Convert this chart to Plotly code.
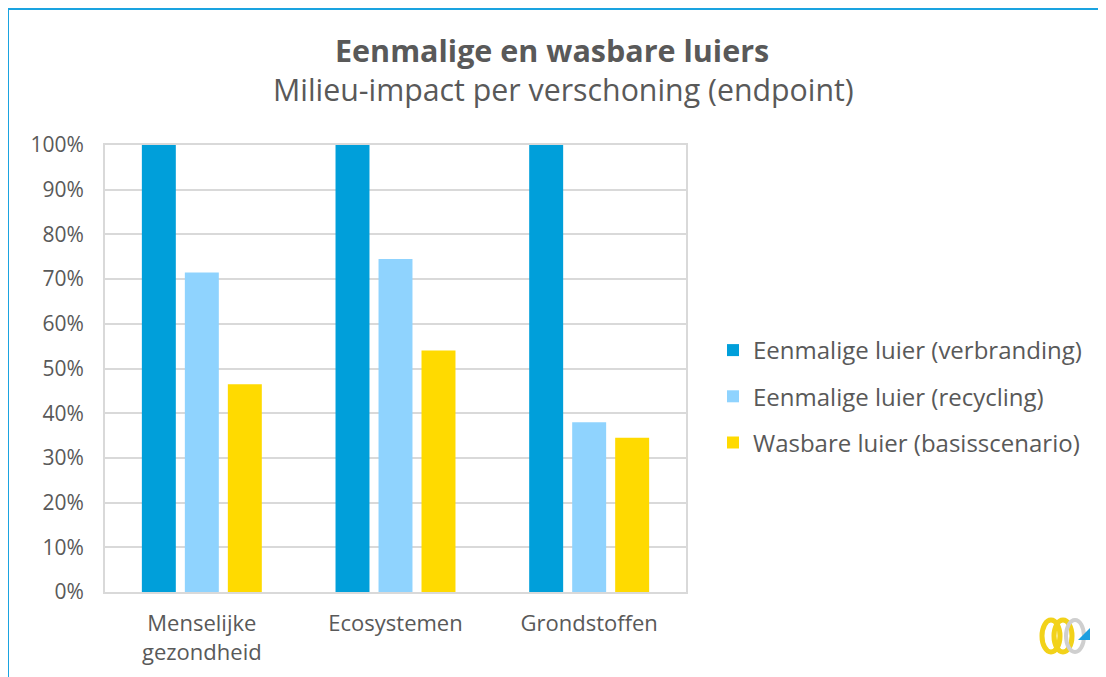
import plotly.graph_objects as go

categories = ["Menselijke<br>gezondheid", "Ecosystemen", "Grondstoffen"]
series_names = ["Eenmalige luier (verbranding)", "Eenmalige luier (recycling)", "Wasbare luier (basisscenario)"]
verbranding = [1.00, 1.00, 1.00]
recycling = [0.715, 0.745, 0.38]
wasbaar = [0.465, 0.54, 0.345]
colors = ["#009FDA", "#8FD3FE", "#FFDA00"]
tick_vals = [i / 10 for i in range(11)]

# page body has an 8px margin, so figure is shifted by 8px
OFF = 8
W, H = 1106 - OFF, 677 - OFF
L, R, T, B = 105, 686, 145, 592  # target screen coords of plot area

fig = go.Figure()
for name, vals, col in zip(series_names, [verbranding, recycling, wasbaar], colors):
    fig.add_trace(go.Bar(x=categories, y=vals, name=name, legendgroup=name,
                         marker=dict(color=col, line=dict(width=0))))

def px(x):
    return (x - L) / (R - L)

def py(y):
    return (B - y) / (B - T)

shapes = [
    dict(type="rect", xref="paper", yref="paper", x0=px(8), x1=px(1200), y0=py(800), y1=py(9),
         line=dict(color="#1AA3E0", width=2), fillcolor="rgba(0,0,0,0)", layer="below"),
    dict(type="circle", xref="paper", yref="paper", x0=px(1042), x1=px(1060), y0=py(652), y1=py(620),
         line=dict(color="#F2D21A", width=5)),
    dict(type="circle", xref="paper", yref="paper", x0=px(1054), x1=px(1072), y0=py(652), y1=py(620),
         line=dict(color="#F2D21A", width=5)),
    dict(type="circle", xref="paper", yref="paper", x0=px(1066), x1=px(1084), y0=py(652), y1=py(620),
         line=dict(color="#CFCFCF", width=4)),
    dict(type="path", xref="paper", yref="paper",
         path=f"M {px(1078)} {py(640)} L {px(1090)} {py(640)} L {px(1090)} {py(628)} Z",
         fillcolor="#1E9FE0", line=dict(width=0)),
]

annotations = [
    dict(text="<b>Eenmalige en wasbare luiers</b>", xref="paper", yref="paper", x=px(552), y=py(50),
         xanchor="center", yanchor="middle", showarrow=False, font=dict(size=30.5, color="#595959")),
    dict(text="Milieu-impact per verschoning (endpoint)", xref="paper", yref="paper", x=px(563), y=py(89),
         xanchor="center", yanchor="middle", showarrow=False, font=dict(size=30.3, color="#595959")),
]

fig.update_layout(
    width=W, height=H,
    margin=dict(l=L - OFF, r=W - (R - OFF), t=T - OFF, b=H - (B - OFF), pad=0),
    paper_bgcolor="white", plot_bgcolor="white",
    font=dict(family="Open Sans, sans-serif", color="#595959"),
    barmode="group", bargap=0.334, bargroupgap=0.21,
    xaxis=dict(showline=True, linecolor="#D9D9D9", linewidth=2, mirror=True, showgrid=False,
               tickfont=dict(size=22, color="#595959"), ticks="outside", ticklen=11, tickcolor="white"),
    yaxis=dict(range=[0, 1], tickvals=tick_vals, tickformat=".0%", showgrid=True, gridcolor="#D9D9D9",
               gridwidth=2, showline=True, linecolor="#D9D9D9", linewidth=2, mirror=True, zeroline=False,
               tickfont=dict(size=21, color="#595959"), ticks="outside", ticklen=15, tickcolor="white"),
    legend=dict(x=px(713), y=py(328), xanchor="left", yanchor="top", font=dict(size=24, color="#595959"),
                bgcolor="rgba(0,0,0,0)", tracegroupgap=12, itemwidth=30),
    shapes=shapes,
    annotations=annotations,
)

fig.write_html("out.html")
